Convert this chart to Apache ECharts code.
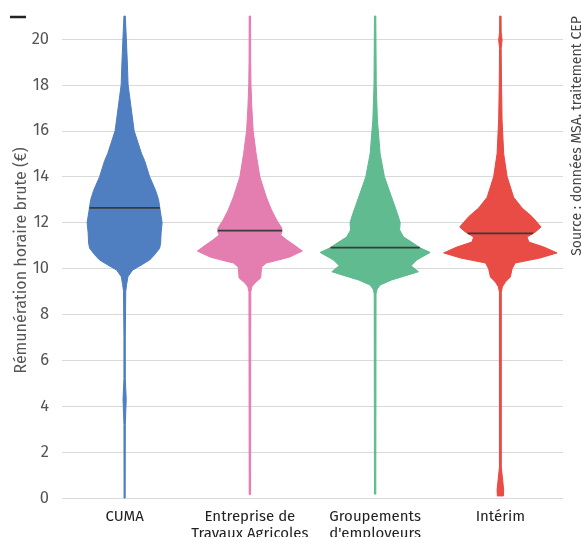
<!DOCTYPE html>
<html>
<head>
<meta charset="utf-8">
<script src="https://cdn.jsdelivr.net/npm/echarts@6/dist/echarts.min.js"></script>
<style>
	html, body { margin: 0; padding: 0; background: #fff; }
	#chart { width: 581px; height: 537px; }
</style>
</head>
<body>
<div id="chart"></div>
<script>
const categories = ['CUMA', 'Entreprise de\nTravaux Agricoles', 'Groupements\nd\'employeurs', 'Intérim'];
const yTicks = [0, 2, 4, 6, 8, 10, 12, 14, 16, 18, 20];

// density profiles, read top to bottom (value in €, relative half-width)
const cumaLevels = [21, 20, 19, 18, 17, 16, 15, 14.7, 14, 13.4, 13, 12.5, 12, 11.55, 11.1, 10.88, 10.6, 10.37, 10.15, 9.93, 9.64, 9.3, 9, 7, 5.2, 4.3, 3.2, 0];
const cumaDensity = [0.012, 0.03, 0.047, 0.061, 0.114, 0.167, 0.298, 0.351, 0.439, 0.544, 0.596, 0.626, 0.658, 0.64, 0.632, 0.614, 0.526, 0.439, 0.293, 0.14, 0.058, 0.035, 0.02, 0.012, 0.012, 0.028, 0.012, 0.01];

const etaLevels = [21, 19, 18, 17, 16.47, 16, 15, 14, 13.1, 12.55, 12.11, 11.76, 11.6, 11.46, 11.24, 11.0, 10.76, 10.5, 10.35, 10.24, 10.07, 9.59, 9.37, 9.2, 8.98, 0.15];
const etaDensity = [0.012, 0.014, 0.02, 0.035, 0.047, 0.058, 0.11, 0.175, 0.29, 0.38, 0.47, 0.56, 0.565, 0.54, 0.65, 0.79, 0.92, 0.7, 0.47, 0.29, 0.205, 0.19, 0.088, 0.035, 0.016, 0.012];

const geLevels = [21, 18, 16.47, 15, 14, 13.1, 12.4, 12.0, 11.68, 11.37, 11.15, 10.9, 10.7, 10.37, 10.12, 9.86, 9.72, 9.5, 9.28, 9.1, 8.9, 0.17];
const geDensity = [0.012, 0.02, 0.04, 0.088, 0.163, 0.29, 0.39, 0.44, 0.43, 0.5, 0.64, 0.79, 0.965, 0.73, 0.63, 0.76, 0.58, 0.29, 0.088, 0.035, 0.016, 0.012];

const interimLevels = [21, 20.3, 19.95, 19.6, 18, 16.47, 15, 14, 13.1, 12.64, 12.26, 11.81, 11.59, 11.37, 11.15, 10.94, 10.68, 10.46, 10.24, 9.98, 9.63, 9.41, 9.2, 8.95, 1.35, 0.35, 0.09];
const interimDensity = [0.012, 0.014, 0.03, 0.014, 0.02, 0.03, 0.058, 0.118, 0.233, 0.38, 0.556, 0.714, 0.614, 0.468, 0.5, 0.76, 0.995, 0.7, 0.26, 0.205, 0.175, 0.088, 0.035, 0.016, 0.016, 0.058, 0.053];

const medians = [12.64, 11.65, 10.91, 11.53];

const profiles = [
	{ levels: cumaLevels, density: cumaDensity },
	{ levels: etaLevels, density: etaDensity },
	{ levels: geLevels, density: geDensity },
	{ levels: interimLevels, density: interimDensity },
];
const palette = ['#4a7bbf', '#e47aad', '#5bb98c', '#e8463f'];
const fontFamily = '"Fira Sans", "Noto Sans", sans-serif';

function densityAt(profile, value) {
	const { levels, density } = profile;
	for (let i = 0; i < levels.length - 1; i++) {
		if (value <= levels[i] && value >= levels[i + 1]) {
			const t = (levels[i] - value) / (levels[i] - levels[i + 1]);
			return density[i] + t * (density[i + 1] - density[i]);
		}
	}
	return 0;
}

function violinRenderer(idx) {
	return function (params, api) {
		const profile = profiles[idx];
		const scale = api.size([1, 0])[0] * 0.455;
		const right = [];
		const left = [];
		profile.levels.forEach((v, i) => {
			const p = api.coord([idx, v]);
			const w = profile.density[i] * scale;
			right.push([p[0] + w, p[1]]);
			left.push([p[0] - w, p[1]]);
		});
		const m = api.coord([idx, medians[idx]]);
		const mw = densityAt(profile, medians[idx]) * scale;
		return {
			type: 'group',
			children: [
				{
					type: 'polygon',
					shape: { points: right.concat(left.reverse()) },
					style: { fill: palette[idx], stroke: palette[idx], lineWidth: 1, opacity: 0.97 },
				},
				{
					type: 'line',
					shape: { x1: m[0] - mw, y1: m[1], x2: m[0] + mw, y2: m[1] },
					style: { stroke: '#3a3a3a', lineWidth: 1.6 },
				},
			],
		};
	};
}

const chart = echarts.init(document.getElementById('chart'), null, { renderer: 'canvas' });

chart.setOption({
	animation: false,
	textStyle: { fontFamily },
	grid: { left: 62, right: 18, top: 39, bottom: 39, containLabel: false, outerBoundsMode: 'none' },
	xAxis: {
		type: 'category',
		data: categories,
		axisLine: { show: false },
		axisTick: { show: false },
		axisLabel: {
			interval: 0,
			margin: 10,
			color: '#222',
			fontSize: 15,
			lineHeight: 17,
			fontFamily,
		},
	},
	yAxis: {
		type: 'value',
		min: yTicks[0],
		max: yTicks[yTicks.length - 1],
		interval: yTicks[1] - yTicks[0],
		name: 'Rémunération horaire brute (€)',
		nameLocation: 'middle',
		nameGap: 32,
		nameMoveOverlap: false,
		nameTextStyle: { color: '#555', fontSize: 16, fontFamily, padding: [0, 0, 0, 16] },
		axisLine: { show: false },
		axisTick: { show: false },
		axisLabel: { color: '#555', fontSize: 16.5, margin: 13, fontFamily },
		splitLine: { lineStyle: { color: '#d9d9d9', width: 1 } },
	},
	graphic: [
		{
			type: 'line',
			shape: { x1: 10, y1: 17, x2: 26, y2: 17 },
			style: { stroke: '#222', lineWidth: 2.5 },
		},
		{
			type: 'text',
			x: 577,
			y: 136,
			rotation: Math.PI / 2,
			style: {
				text: 'Source : données MSA, traitement CEP',
				fill: '#444',
				font: '14px ' + fontFamily,
				align: 'center',
				verticalAlign: 'middle',
			},
		},
	],
	series: categories.map((name, idx) => ({
		type: 'custom',
		name,
		coordinateSystem: 'cartesian2d',
		silent: true,
		clip: false,
		encode: { x: 0, y: 1 },
		data: [[idx, medians[idx]]],
		renderItem: violinRenderer(idx),
	})),
});
</script>
</body>
</html>
